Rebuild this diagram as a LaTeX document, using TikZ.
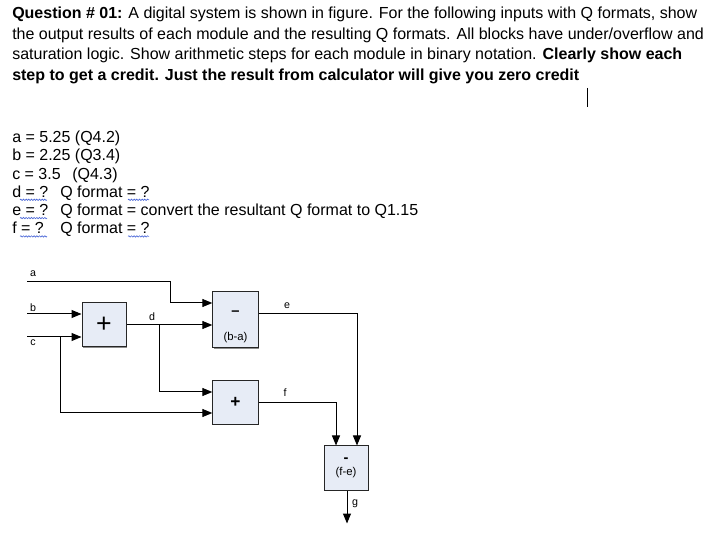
\documentclass[tikz,border=0pt]{standalone}
\usepackage{fontspec}
\setmainfont{Liberation Sans}
\usetikzlibrary{arrows.meta,calc,decorations.pathmorphing,shadows}
\definecolor{boxfill}{HTML}{E7ECF6}
\definecolor{spellblue}{HTML}{4F6BD8}
\newcommand{\opsize}[1]{\fontsize{#1}{#1}\selectfont}

\begin{document}
\begin{tikzpicture}[x=0.75pt,y=-0.75pt,>={Triangle[length=7.5pt,width=6pt]},
  blk/.style={draw=black!85,line width=0.75pt,fill=boxfill,inner sep=0pt,
    drop shadow={shadow xshift=0.8pt,shadow yshift=-0.8pt,fill=black!45,opacity=1}},
  wire/.style={line width=0.75pt},
  lbl/.style={font=\opsize{8},inner sep=0pt,anchor=base},
  txt/.style={font=\fontsize{12}{14}\selectfont,inner sep=0pt,anchor=base west},
  squig/.style={draw=spellblue,line width=0.5pt,decorate,decoration={snake,amplitude=0.5pt,segment length=2pt}}]
\useasboundingbox (0,0) rectangle (714,534);
% question text
\node[txt] (q1) at (12,19) {\textbf{Question \# 01:} A digital system is shown in figure. For the following inputs with Q formats, show};
\node[txt] (q2) at (12,39.5) {the output results of each module and the resulting Q formats. All blocks have under/overflow and};
\node[txt] (q3) at (12,60) {saturation logic. Show arithmetic steps for each module in binary notation. \textbf{Clearly show each}};
\node[txt,font=\bfseries\fontsize{12}{14}\selectfont] (q4) at (12,80.5) {step to get a credit. Just the result from calculator will give you zero credit};
\draw[line width=0.75pt] (587,88) -- (587,107);
% inputs and formats
\node[txt] (va) at (12,142.5) {a = 5.25 (Q4.2)};
\node[txt] (vb) at (12,160.8) {b = 2.25 (Q3.4)};
\node[txt] (vc) at (12,179.1) {c = 3.5};
\node[txt] (vcq) at (72,179.1) {(Q4.3)};
\node[txt] (vd) at (12,197.4) {d = ?};
\node[txt] (vdq) at (60,197.4) {Q format = ?};
\node[txt] (ve) at (12,215.7) {e = ?};
\node[txt] (veq) at (60,215.7) {Q format = convert the resultant Q format to Q1.15};
\node[txt] (vf) at (12,234) {f = ?};
\node[txt] (vfq) at (60,234) {Q format = ?};
\foreach \y in {199.8,218.1,236.4} \draw[squig] (20,\y) -- (47,\y);
\foreach \y in {199.8,236.4} \draw[squig] (128,\y) -- (149,\y);
% blocks
\node[blk,minimum width=33pt,minimum height=33pt] (add1) at (104,325) {\opsize{20}+};
\node[blk,minimum width=34pt,minimum height=42pt] (sub1) at (235.5,320) {};
\node[inner sep=0pt] (sub1op) at (235.5,313) {\opsize{11}\textbf{–}};
\node[inner sep=0pt,font=\opsize{8.5}] (sub1ex) at (235.5,338) {(b-a)};
\node[blk,minimum width=34pt,minimum height=32.5pt] (add2) at (235.5,402.5) {\opsize{13}\textbf{+}};
\node[blk,minimum width=33pt,minimum height=33pt] (sub2) at (346,468) {};
\node[inner sep=0pt] (sub2op) at (346,460) {\opsize{11}\textbf{-}};
\node[inner sep=0pt,font=\opsize{8.5}] (sub2ex) at (346,473) {(f-e)};
% signals
\coordinate (ina) at (27,281.7);
\coordinate (inb) at (27,314);
\coordinate (inc) at (27,337);
\coordinate (outg) at ($(sub2.south)+(1,33)$);
\draw[wire,->] (ina) -- ++(143,0) |- ($(sub1.west)+(0,-17)$);
\draw[wire,->] (inb) -- ($(add1.west)+(0,-11)$);
\draw[wire,->] (inc) -- ($(add1.west)+(0,12)$);
\draw[wire,->] (inc) ++(33,0) |- ($(add2.west)+(0,10.5)$);
\draw[wire,->] (add1.east) -- ($(sub1.west)+(0,5)$);
\draw[wire,->] (add1.east) ++(33,0) |- ($(add2.west)+(0,-10.5)$);
\draw[wire,->] ($(sub1.east)+(0,-6)$) -| ($(sub2.north)+(11,0)$);
\draw[wire,->] (add2.east) -| ($(sub2.north)+(-10,0)$);
\draw[wire,->] ($(sub2.south)+(1,0)$) -- (outg);
% labels
\node[lbl] (la) at (33,276.7) {a};
\node[lbl] (lb) at (33,311.7) {b};
\node[lbl] (lc) at (33,346) {c};
\node[lbl] (ld) at (152,320.7) {d};
\node[lbl] (le) at (287,309) {e};
\node[lbl] (lf) at (285,396.7) {f};
\node[lbl] (lg) at (355,505) {g};
\end{tikzpicture}
\end{document}
